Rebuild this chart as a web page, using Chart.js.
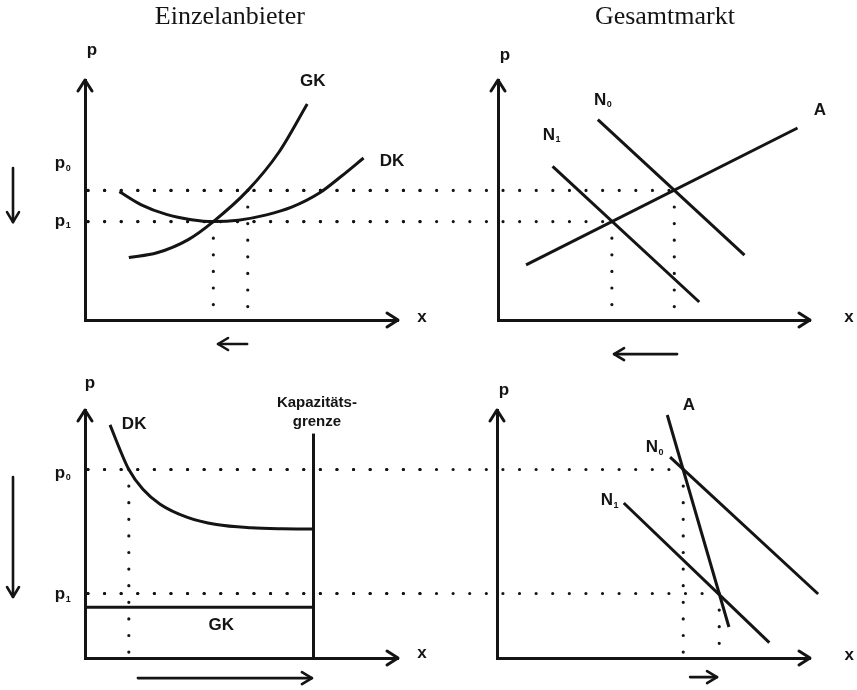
<!DOCTYPE html>
<html>
<head>
<meta charset="utf-8">
<script src="https://cdn.jsdelivr.net/npm/chart.js@4.4.0/dist/chart.umd.min.js"></script>
<style>
html, body { margin: 0; background: #fff; }
#wrap { position: relative; width: 857px; height: 690px; }
canvas { position: absolute; left: 0; top: 0; }
</style>
</head>
<body>
<div id="wrap">
  <canvas id="c1" width="857" height="690"></canvas>
  <canvas id="c2" width="857" height="690"></canvas>
  <canvas id="c3" width="857" height="690"></canvas>
  <canvas id="c4" width="857" height="690"></canvas>
</div>
<script>
// obere Reihe: Preise p0, p1
var pTop = [5.4, 4.1];
// Einzelanbieter oben
var gkTopX = [1.4, 2.3, 3.3, 4.1, 5.2, 6.2, 7.1];
var gkTopY = [2.6, 2.8, 3.35, 4.1, 5.4, 7.0, 9.0];
var dkTopX = [1.1, 1.8, 2.6, 3.4, 4.1, 4.9, 5.8, 6.6, 7.5, 8.2, 8.9];
var dkTopY = [5.35, 4.8, 4.4, 4.18, 4.1, 4.16, 4.38, 4.7, 5.3, 6.0, 6.75];
var qEinzelTop = [5.2, 4.1];
// Gesamtmarkt oben
var aTopX = [0.9, 9.6], aTopY = [2.3, 8.0];
var n0TopX = [3.2, 7.9], n0TopY = [8.35, 2.7];
var n1TopX = [1.75, 6.45], n1TopY = [6.4, 0.75];
var qMarktTop = [5.65, 3.65];

// untere Reihe
var pBot = [7.6, 2.6];
var dkBotX = [0.8, 1.1, 1.4, 1.85, 2.4, 3.25, 4.2, 5.3, 6.3, 7.3];
var dkBotY = [9.4, 8.45, 7.6, 6.8, 6.2, 5.68, 5.38, 5.25, 5.21, 5.2];
var gkBot = 2.05;
var kapazitaet = 7.3, kapTop = 9.05;
var qEinzelBot = [1.4];
var aBotX = [5.44, 7.41], aBotY = [9.8, 1.25];
var n0BotX = [5.53, 10.26], n0BotY = [8.1, 2.58];
var n1BotX = [4.05, 8.7], n1BotY = [6.25, 0.62];
var qMarktBot = [5.95, 7.1];

var ink = '#141414';
var sans = '"Liberation Sans", Arial, sans-serif';
var serif = '"Liberation Serif", "Times New Roman", serif';

function pts(xs, ys) { return xs.map(function (x, i) { return {x: x, y: ys[i]}; }); }

function curve(xs, ys, smooth) {
  return {
    data: pts(xs, ys), showLine: true, borderColor: ink, borderWidth: 3,
    pointRadius: 0, clip: false, fill: false,
    cubicInterpolationMode: smooth ? 'monotone' : 'default', tension: smooth ? 0.4 : 0
  };
}
function dots(xs, ys) {
  var d = curve(xs, ys, false);
  d.borderWidth = 3.2;
  d.borderDash = [0, 16.6];
  d.borderCapStyle = 'round';
  return d;
}

function head(ctx, tx, ty, dx, dy, len, w) {
  ctx.beginPath();
  ctx.moveTo(tx - dx * len - dy * w, ty - dy * len + dx * w);
  ctx.lineTo(tx, ty);
  ctx.lineTo(tx - dx * len + dy * w, ty - dy * len - dx * w);
  ctx.stroke();
}

var marks = {
  id: 'marks',
  afterDraw: function (chart, args, opts) {
    var ctx = chart.ctx, a = chart.chartArea, sx = chart.scales.x, sy = chart.scales.y;
    ctx.save();
    ctx.strokeStyle = ink; ctx.fillStyle = ink;
    ctx.lineWidth = 3; ctx.lineCap = 'round'; ctx.lineJoin = 'round';
    head(ctx, a.left, a.top, 0, -1, 11, 7);
    head(ctx, a.right, a.bottom, 1, 0, 11, 7);
    (opts.arrows || []).forEach(function (r) {
      var x0 = sx.getPixelForValue(r[0]), y0 = sy.getPixelForValue(r[1]);
      var x1 = sx.getPixelForValue(r[2]), y1 = sy.getPixelForValue(r[3]);
      var L = Math.hypot(x1 - x0, y1 - y0);
      ctx.lineWidth = 2.6;
      ctx.beginPath(); ctx.moveTo(x0, y0); ctx.lineTo(x1, y1); ctx.stroke();
      head(ctx, x1, y1, (x1 - x0) / L, (y1 - y0) / L, 10, 6);
    });
    ctx.textBaseline = 'middle';
    (opts.labels || []).forEach(function (l) {
      var px = sx.getPixelForValue(l.x), py = sy.getPixelForValue(l.y);
      ctx.font = l.f || ('bold 17px ' + sans);
      ctx.textAlign = 'center';
      ctx.fillText(l.t, px, py);
      if (l.s) {
        var w = ctx.measureText(l.t).width;
        ctx.font = 'bold 9px ' + sans;
        ctx.textAlign = 'left';
        ctx.fillText(l.s, px + w / 2 + 0.5, py + 5);
      }
    });
    ctx.restore();
  }
};

function panel(id, area, datasets, opts) {
  return new Chart(document.getElementById(id), {
    type: 'scatter',
    data: {datasets: datasets},
    plugins: [marks],
    options: {
      responsive: false, animation: false, events: [],
      layout: {padding: {left: area[0], top: area[1], right: 857 - area[2], bottom: 690 - area[3]}},
      plugins: {legend: {display: false}, tooltip: {enabled: false}, marks: opts},
      scales: {
        x: {type: 'linear', min: 0, max: 10, ticks: {display: false}, grid: {display: false},
            border: {display: true, color: ink, width: 3}, afterFit: function (s) { s.height = 0; }},
        y: {type: 'linear', min: 0, max: 10, ticks: {display: false}, grid: {display: false},
            border: {display: true, color: ink, width: 3}, afterFit: function (s) { s.width = 0; }}
      }
    }
  });
}

// Einzelanbieter oben
panel('c1', [85, 80, 398, 320], [
  dots([0.096, 11], [pTop[0], pTop[0]]),
  dots([0.096, 11], [pTop[1], pTop[1]]),
  dots([qEinzelTop[0], qEinzelTop[0]], [pTop[0], 0]),
  dots([qEinzelTop[1], qEinzelTop[1]], [pTop[1], 0]),
  curve(gkTopX, gkTopY, true),
  curve(dkTopX, dkTopY, true)
], {
  arrows: [[-2.3, 6.33, -2.3, 4.08], [5.18, -1.0, 4.25, -1.0]],
  labels: [
    {t: 'Einzelanbieter', x: 4.63, y: 12.6, f: '26px ' + serif},
    {t: 'p', x: 0.22, y: 11.25}, {t: 'x', x: 10.77, y: 0.125},
    {t: 'p', s: '0', x: -0.8, y: 6.54}, {t: 'p', s: '1', x: -0.8, y: 4.125},
    {t: 'GK', x: 7.28, y: 9.96}, {t: 'DK', x: 9.81, y: 6.63}
  ]
});

// Gesamtmarkt oben (Punktlinien in gleicher Phase wie links)
panel('c2', [498, 80, 810, 320], [
  dots([-13.14, qMarktTop[0]], [pTop[0], pTop[0]]),
  dots([-13.14, qMarktTop[1]], [pTop[1], pTop[1]]),
  dots([qMarktTop[0], qMarktTop[0]], [pTop[0], 0]),
  dots([qMarktTop[1], qMarktTop[1]], [pTop[1], 0]),
  curve(aTopX, aTopY, false),
  curve(n0TopX, n0TopY, false),
  curve(n1TopX, n1TopY, false)
], {
  arrows: [[5.74, -1.42, 3.72, -1.42]],
  labels: [
    {t: 'Gesamtmarkt', x: 5.35, y: 12.6, f: '26px ' + serif},
    {t: 'p', x: 0.22, y: 11.04}, {t: 'x', x: 11.25, y: 0.125},
    {t: 'A', x: 10.32, y: 8.75},
    {t: 'N', s: '0', x: 3.27, y: 9.17}, {t: 'N', s: '1', x: 1.63, y: 7.71}
  ]
});

// Einzelanbieter unten
panel('c3', [85, 410, 398, 658], [
  dots([0.096, 11], [pBot[0], pBot[0]]),
  dots([0.096, 11], [pBot[1], pBot[1]]),
  dots([qEinzelBot[0], qEinzelBot[0]], [pBot[0], 0]),
  curve(dkBotX, dkBotY, true),
  curve([0, kapazitaet], [gkBot, gkBot], false),
  curve([kapazitaet, kapazitaet], [0, kapTop], false)
], {
  arrows: [[-2.3, 7.3, -2.3, 2.46], [1.69, -0.81, 7.25, -0.81]],
  labels: [
    {t: 'p', x: 0.16, y: 11.09}, {t: 'x', x: 10.77, y: 0.2},
    {t: 'p', s: '0', x: -0.8, y: 7.46}, {t: 'p', s: '1', x: -0.8, y: 2.58},
    {t: 'DK', x: 1.57, y: 9.44}, {t: 'GK', x: 4.35, y: 1.33},
    {t: 'Kapazitäts-', x: 7.41, y: 10.28, f: 'bold 15px ' + sans},
    {t: 'grenze', x: 7.41, y: 9.52, f: 'bold 15px ' + sans}
  ]
});

// Gesamtmarkt unten
panel('c4', [497, 410, 810, 658], [
  dots([-13.07, qMarktBot[0]], [pBot[0], pBot[0]]),
  dots([-13.07, qMarktBot[1]], [pBot[1], pBot[1]]),
  dots([qMarktBot[0], qMarktBot[0]], [pBot[0], 0]),
  dots([qMarktBot[1], qMarktBot[1]], [pBot[1], 0]),
  curve(aBotX, aBotY, false),
  curve(n0BotX, n0BotY, false),
  curve(n1BotX, n1BotY, false)
], {
  arrows: [[6.17, -0.77, 7.03, -0.77]],
  labels: [
    {t: 'p', x: 0.22, y: 10.8}, {t: 'x', x: 11.25, y: 0.12},
    {t: 'A', x: 6.13, y: 10.2},
    {t: 'N', s: '0', x: 4.95, y: 8.5}, {t: 'N', s: '1', x: 3.51, y: 6.37}
  ]
});
</script>
</body>
</html>
